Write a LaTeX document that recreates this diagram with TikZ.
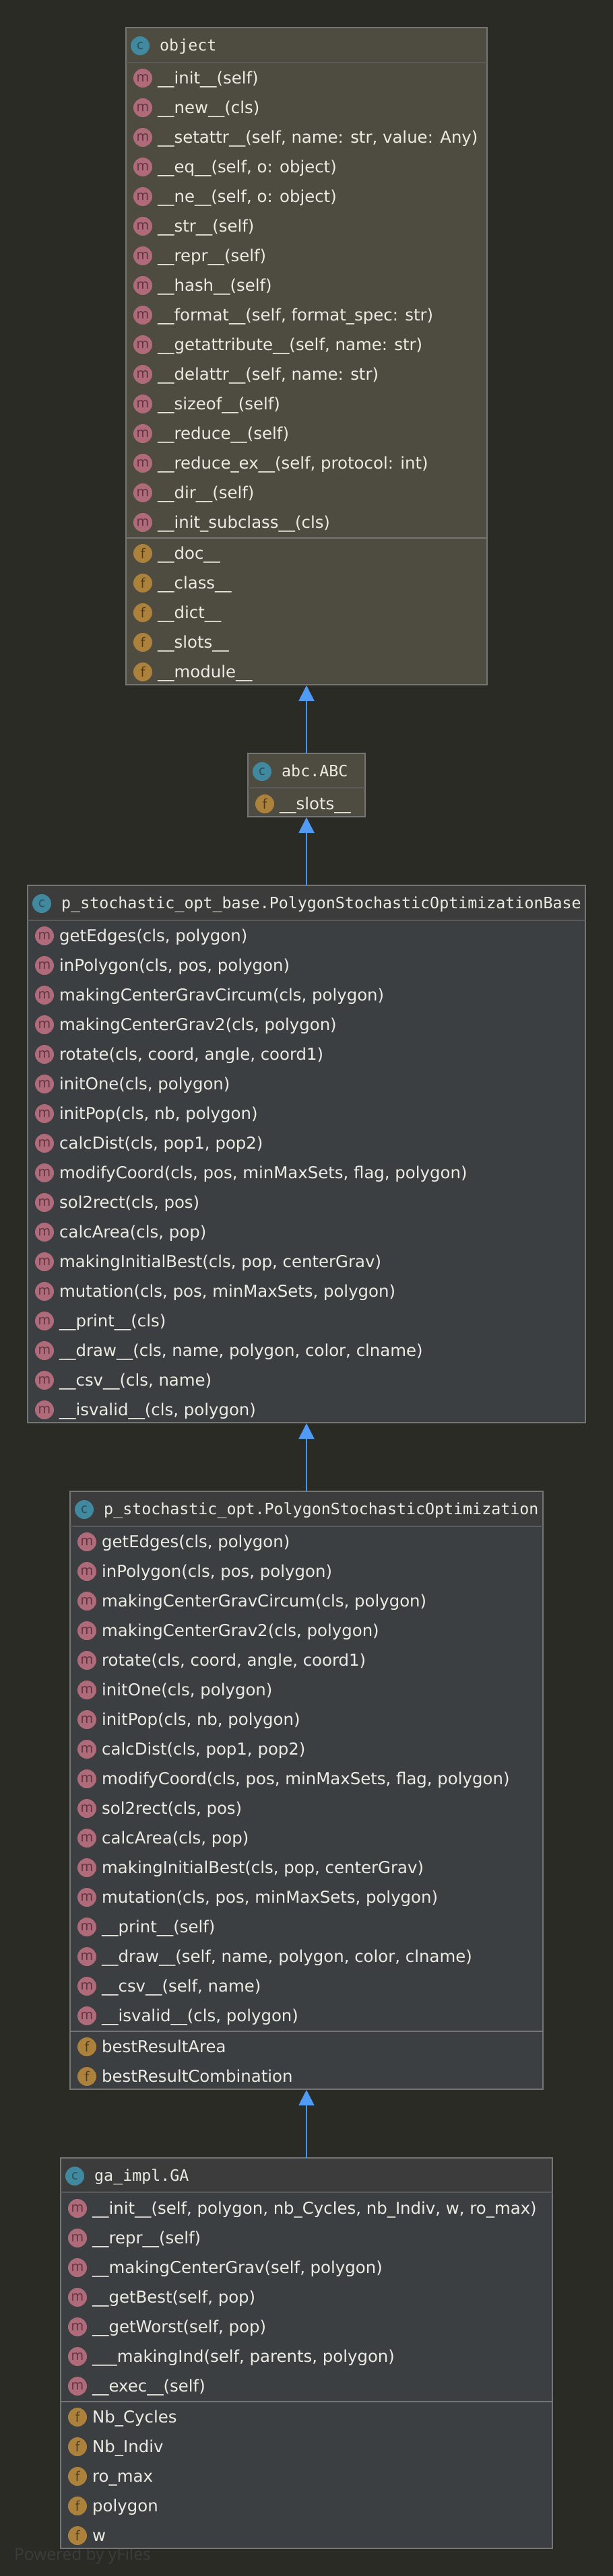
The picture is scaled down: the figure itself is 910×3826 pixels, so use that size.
\documentclass[tikz,border=0pt]{standalone}
\usepackage{fontspec}
\setmainfont{DejaVu Sans}
\newfontfamily\footfont{Open Sans}
\setmonofont{DejaVu Sans Mono}
\usetikzlibrary{arrows.meta}
\catcode`\_=12
\definecolor{bgc}{HTML}{2A2B25}
\definecolor{objbody}{HTML}{4E4B40}
\definecolor{darkbody}{HTML}{3C3F41}
\definecolor{darkhead}{HTML}{3C3C3C}
\definecolor{edgec}{HTML}{757575}
\definecolor{headsep}{HTML}{5A5A5A}
\definecolor{inkc}{HTML}{ECECE4}
\definecolor{arrowc}{HTML}{4C94E8}
\definecolor{tipc}{HTML}{4F9BF5}
\definecolor{mfill}{HTML}{B06B7A}
\definecolor{mink}{HTML}{5B3340}
\definecolor{ffill}{HTML}{AC813C}
\definecolor{fink}{HTML}{4D3A1A}
\definecolor{cfill}{HTML}{40899F}
\definecolor{cink}{HTML}{2C4A5C}
\definecolor{yfc}{HTML}{3C3D3E}
\tikzset{
  umlbox/.style={draw=edgec,line width=2pt,anchor=north west,inner sep=0pt,outer sep=0pt},
  iconbase/.style={circle,inner sep=0pt,minimum size=28pt,font=\footfont\fontsize{20}{20}\selectfont},
  iconm/.style={iconbase,fill=mfill,text=mink},
  iconf/.style={iconbase,fill=ffill,text=fink},
  iconc/.style={iconbase,fill=cfill,text=cink},
  titletext/.style={anchor=base west,inner sep=0pt,text=inkc,font=\ttfamily\fontsize{23.3}{24}\selectfont},
  rowtext/.style={anchor=base west,inner sep=0pt,text=inkc,font=\fontsize{24.4}{26}\selectfont},
  inherit/.style={draw=arrowc,line width=2pt,-{Triangle[width=23pt,length=23pt,fill=tipc,color=tipc]},shorten >=1pt}
}
% name, x1, y1, x2, y2, separator y, body colour, head colour, title
\newcommand{\umlclass}[9]{%
  \node[umlbox,fill=#7,minimum width={#4pt-#2pt},minimum height={#5pt-#3pt}] (#1) at (#2,#3) {};
  \fill[#8] (#2+1,#3+1) rectangle (#4-1,#6);
  \draw[headsep,line width=2pt] (#2,#6) -- (#4,#6);
  \node[iconc] (#1-icon) at (#2+21,#3+27) {c};
  \node[titletext] (#1-title) at (#2+50,#3+34) {#9};
}
% name, kind (m/f), x1, first y, list
\newcommand{\umlrows}[5]{%
  \foreach \rowtxt [count=\rowi from 0] in {#5} {
    \pgfmathsetmacro{\rowy}{#4+44*\rowi}
    \node[icon#2] (#1-#2\rowi) at (#3+25,\rowy) {#2};
    \node[rowtext] (#1-#2\rowi-label) at (#3+47,\rowy+8.5) {\rowtxt};
  }
}
\newcommand{\umldivider}[2]{\draw[edgec,line width=2pt] (#1.west |- 0,#2) -- (#1.east |- 0,#2);}
\begin{document}
\begin{tikzpicture}[x=1pt,y=-1pt]
\useasboundingbox (0,0) rectangle (910,3826);
\fill[bgc] (0,0) rectangle (910,3826);

\node[anchor=base west,inner sep=0pt,text=yfc,font=\footfont\fontsize{24.5}{26}\selectfont] (powered) at (21,3802) {Powered by yFiles};

\umlclass{obj}{187}{41}{723}{1017}{93}{objbody}{objbody}{object}
\umlrows{obj}{m}{187}{116}{__init__(self),__new__(cls),{__setattr__(self, name: str, value: Any)},{__eq__(self, o: object)},{__ne__(self, o: object)},__str__(self),__repr__(self),__hash__(self),{__format__(self, format_spec: str)},{__getattribute__(self, name: str)},{__delattr__(self, name: str)},__sizeof__(self),__reduce__(self),{__reduce_ex__(self, protocol: int)},__dir__(self),__init_subclass__(cls)}
\umldivider{obj}{799}
\umlrows{obj}{f}{187}{822}{__doc__,__class__,__dict__,__slots__,__module__}

\umlclass{abc}{368}{1119}{542}{1213}{1170}{objbody}{objbody}{abc.ABC}
\umlrows{abc}{f}{368}{1194}{__slots__}

\umlclass{base}{41}{1315}{869}{2113}{1367}{darkbody}{darkhead}{p_stochastic_opt_base.PolygonStochasticOptimizationBase}
\umlrows{base}{m}{41}{1390}{{getEdges(cls, polygon)},{inPolygon(cls, pos, polygon)},{makingCenterGravCircum(cls, polygon)},{makingCenterGrav2(cls, polygon)},{rotate(cls, coord, angle, coord1)},{initOne(cls, polygon)},{initPop(cls, nb, polygon)},{calcDist(cls, pop1, pop2)},{modifyCoord(cls, pos, minMaxSets, flag, polygon)},{sol2rect(cls, pos)},{calcArea(cls, pop)},{makingInitialBest(cls, pop, centerGrav)},{mutation(cls, pos, minMaxSets, polygon)},__print__(cls),{__draw__(cls, name, polygon, color, clname)},{__csv__(cls, name)},{__isvalid__(cls, polygon)}}

\umlclass{opt}{104}{2215}{806}{3103}{2267}{darkbody}{darkhead}{p_stochastic_opt.PolygonStochasticOptimization}
\umlrows{opt}{m}{104}{2290}{{getEdges(cls, polygon)},{inPolygon(cls, pos, polygon)},{makingCenterGravCircum(cls, polygon)},{makingCenterGrav2(cls, polygon)},{rotate(cls, coord, angle, coord1)},{initOne(cls, polygon)},{initPop(cls, nb, polygon)},{calcDist(cls, pop1, pop2)},{modifyCoord(cls, pos, minMaxSets, flag, polygon)},{sol2rect(cls, pos)},{calcArea(cls, pop)},{makingInitialBest(cls, pop, centerGrav)},{mutation(cls, pos, minMaxSets, polygon)},__print__(self),{__draw__(self, name, polygon, color, clname)},{__csv__(self, name)},{__isvalid__(cls, polygon)}}
\umldivider{opt}{3017}
\umlrows{opt}{f}{104}{3040}{bestResultArea,bestResultCombination}

\umlclass{ga}{90}{3205}{820}{3785}{3256}{darkbody}{darkhead}{ga_impl.GA}
\umlrows{ga}{m}{90}{3280}{{__init__(self, polygon, nb_Cycles, nb_Indiv, w, ro_max)},__repr__(self),{__makingCenterGrav(self, polygon)},{__getBest(self, pop)},{__getWorst(self, pop)},{___makingInd(self, parents, polygon)},__exec__(self)}
\umldivider{ga}{3567}
\umlrows{ga}{f}{90}{3590}{Nb_Cycles,Nb_Indiv,ro_max,polygon,w}

\draw[inherit] (abc.north) -- (obj.south);
\draw[inherit] (base.north) -- (abc.south);
\draw[inherit] (opt.north) -- (base.south);
\draw[inherit] (ga.north) -- (opt.south);
\end{tikzpicture}
\end{document}
